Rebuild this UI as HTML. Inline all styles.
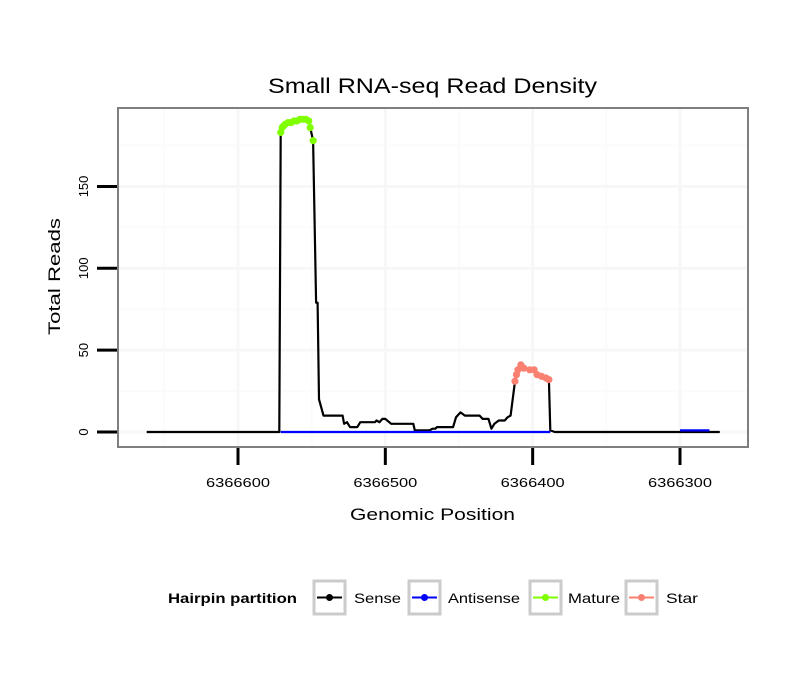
<!DOCTYPE html>
<html><head><meta charset="utf-8"><style>
body{margin:0;background:#fff;}
svg text{font-family:"Liberation Sans",sans-serif;}
</style></head><body>
<svg id="chart" width="810" height="690" xmlns="http://www.w3.org/2000/svg">
<rect width="810" height="690" fill="#fff"/>
<text x="268" y="93" font-size="21" textLength="329" lengthAdjust="spacingAndGlyphs">Small RNA-seq Read Density</text>
<g id="grid"></g>
<g id="series"></g>
<rect x="118" y="108" width="630" height="339" fill="none" stroke="#7f7f7f" stroke-width="2"/>
<g id="axes"></g>
<text x="350" y="520" font-size="17" textLength="165" lengthAdjust="spacingAndGlyphs">Genomic Position</text>
<text transform="translate(60,335) rotate(-90)" font-size="17" textLength="117" lengthAdjust="spacingAndGlyphs">Total Reads</text>
<g>
<text x="168" y="603" font-size="14" font-weight="bold" textLength="129" lengthAdjust="spacingAndGlyphs">Hairpin partition</text>
<g><rect x="314" y="581" width="31" height="33" fill="#fff" stroke="#cbcbcb" stroke-width="3"/><line x1="317" y1="597.5" x2="342" y2="597.5" stroke="#000" stroke-width="2"/><circle cx="329.5" cy="597.5" r="3.5" fill="#000"/><text x="354" y="603" font-size="14" textLength="47" lengthAdjust="spacingAndGlyphs">Sense</text></g>
<g><rect x="409" y="581" width="31" height="33" fill="#fff" stroke="#cbcbcb" stroke-width="3"/><line x1="412" y1="597.5" x2="437" y2="597.5" stroke="#0000ff" stroke-width="2"/><circle cx="424.5" cy="597.5" r="3.5" fill="#0000ff"/><text x="448" y="603" font-size="14" textLength="72" lengthAdjust="spacingAndGlyphs">Antisense</text></g>
<g><rect x="530" y="581" width="31" height="33" fill="#fff" stroke="#cbcbcb" stroke-width="3"/><line x1="533" y1="597.5" x2="558" y2="597.5" stroke="#7fff00" stroke-width="2"/><circle cx="545.5" cy="597.5" r="3.5" fill="#7fff00"/><text x="568" y="603" font-size="14" textLength="52" lengthAdjust="spacingAndGlyphs">Mature</text></g>
<g><rect x="626" y="581" width="31" height="33" fill="#fff" stroke="#cbcbcb" stroke-width="3"/><line x1="629" y1="597.5" x2="654" y2="597.5" stroke="#fa8072" stroke-width="2"/><circle cx="641.5" cy="597.5" r="3.5" fill="#fa8072"/><text x="666" y="603" font-size="14" textLength="32" lengthAdjust="spacingAndGlyphs">Star</text></g>
</g>
</svg>
<script>
const xTicks=[6366600,6366500,6366400,6366300];
const yTicks=[0,50,100,150];
const sensePos=[6366662,6366572,6366571,6366570,6366569,6366568,6366566,6366564,6366562,6366560,6366558,6366556,6366554,6366552,6366551,6366549,6366547,6366546,6366545,6366542,6366529,6366528,6366526,6366524,6366519,6366517,6366507,6366506,6366504,6366502,6366500,6366496,6366481,6366480,6366470,6366468,6366466,6366465,6366454,6366452,6366449,6366446,6366436,6366434,6366430,6366428,6366426,6366423,6366419,6366417,6366415,6366412,6366411,6366410,6366408,6366406,6366402,6366399,6366397,6366394,6366391,6366389,6366388,6366385,6366273];
const senseVal=[0,0,183,186,187,188,189,189,190,190,191,191,191,190,186,178,79,79,20,10,10,5,6,3,3,6,6,7,6,8,8,5,5,1,1,2,2,3,3,9,12,10,10,8,8,2,5,7,7,9,10,31,35,38,41,39,38,38,35,34,33,32,1,0,0];
const antiPos=[6366571,6366388,6366300,6366280];
const antiVal=[0,0,1,1];
const maturePos=[6366571,6366570,6366569,6366568,6366566,6366564,6366562,6366560,6366558,6366556,6366554,6366552,6366551,6366549];
const matureVal=[183,186,187,188,189,189,190,190,191,191,191,190,186,178];
const starPos=[6366412,6366411,6366410,6366408,6366406,6366402,6366399,6366397,6366394,6366391,6366389];
const starVal=[31,35,38,41,39,38,38,35,34,33,32];

const X=p=>238+(6366600-p)*1.4733;
const Y=v=>432-v*1.637;
const NS="http://www.w3.org/2000/svg";
function mk(tag,attrs,parent){const e=document.createElementNS(NS,tag);for(const k in attrs)e.setAttribute(k,attrs[k]);parent.appendChild(e);return e;}
const grid=document.getElementById('grid'),axes=document.getElementById('axes'),series=document.getElementById('series');
for(let i=0;i<yTicks.length;i++){const v=yTicks[i]+25;const y=Y(v);if(y>108){const l=mk('line',{x1:119,x2:747,y1:y,y2:y,stroke:'#fbfbfb','stroke-width':2},grid);

}}
for(let i=0;i<=xTicks.length;i++){const p=xTicks[0]+50-100*i;const x=X(p);if(x>118&&x<748){const l=mk('line',{x1:x,x2:x,y1:109,y2:446,stroke:'#fbfbfb','stroke-width':2},grid);

}}
yTicks.forEach(v=>{const y=Y(v);
const g=mk('line',{x1:119,x2:747,y1:y,y2:y,stroke:'#f7f7f7','stroke-width':3},grid);


const t=mk('line',{x1:97,x2:117,y1:y,y2:y,stroke:'#000','stroke-width':3},axes);


const tx=mk('text',{transform:`translate(88,${y}) rotate(-90)`,'font-size':13,'text-anchor':'middle'},axes);tx.textContent=v;

});
xTicks.forEach(p=>{const x=X(p);
const g=mk('line',{x1:x,x2:x,y1:109,y2:446,stroke:'#f7f7f7','stroke-width':3},grid);


const t=mk('line',{x1:x,x2:x,y1:448,y2:465,stroke:'#000','stroke-width':3},axes);


const tx=mk('text',{x:x-32,y:487,'font-size':13,textLength:64,lengthAdjust:'spacingAndGlyphs'},axes);tx.textContent=p;

});
function path(P,V,brk){let d='';for(let i=0;i<P.length;i++){d+=(i===0||(brk&&i===brk)?'M':'L')+X(P[i]).toFixed(1)+','+Y(V[i]).toFixed(1);}return d;}
const sl=mk('path',{d:path(sensePos,senseVal),fill:'none',stroke:'#000','stroke-width':2.2,'stroke-linejoin':'round'},series);


const al=mk('path',{d:path(antiPos,antiVal,2),fill:'none',stroke:'#0000ff','stroke-width':2.2},series);


maturePos.forEach((p,i)=>{const c=mk('circle',{cx:X(p),cy:Y(matureVal[i]),r:3.6,fill:'#7fff00'},series);

});
starPos.forEach((p,i)=>{const c=mk('circle',{cx:X(p),cy:Y(starVal[i]),r:3.6,fill:'#fa8072'},series);

});
</script>
</body></html>
